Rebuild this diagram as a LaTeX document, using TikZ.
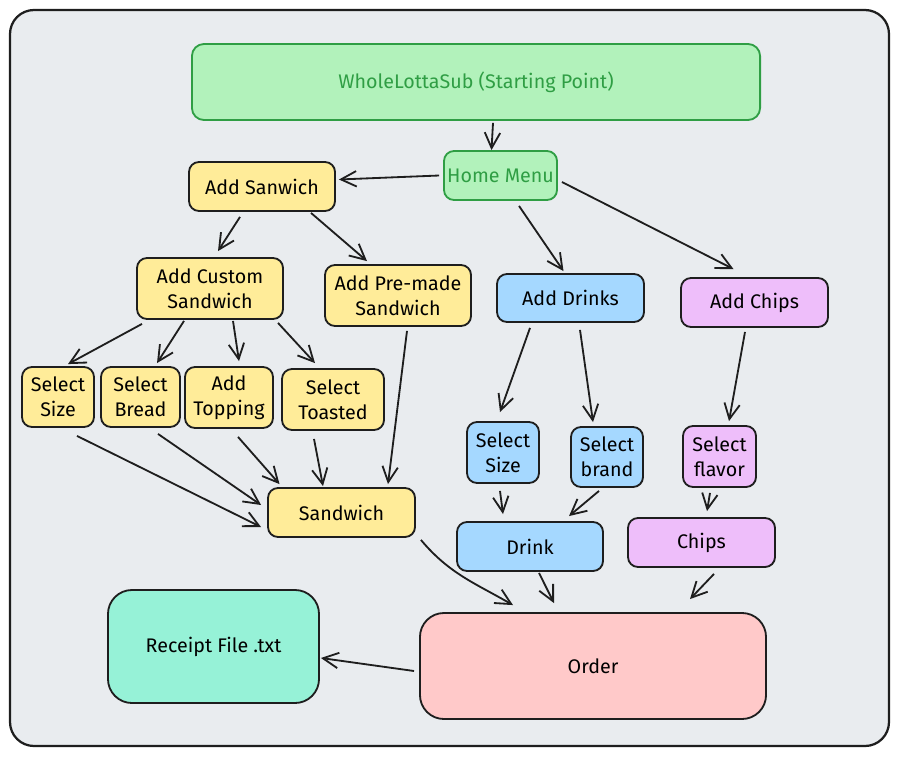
\documentclass[tikz,border=0pt]{standalone}
\usepackage{fontspec}
\setmainfont{Fira Sans}
\usetikzlibrary{arrows.meta}

\definecolor{ink}{HTML}{1E1E1E}
\definecolor{paper}{HTML}{E9ECEF}
\definecolor{greenfill}{HTML}{B2F2BB}
\definecolor{greenline}{HTML}{2F9E44}
\definecolor{yellowfill}{HTML}{FFEC99}
\definecolor{bluefill}{HTML}{A5D8FF}
\definecolor{purplefill}{HTML}{EEBEFA}
\definecolor{redfill}{HTML}{FFC9C9}
\definecolor{tealfill}{HTML}{96F2D7}

\tikzstyle{box} = [rectangle, rounded corners=0.25cm, align=center, draw=ink, line width=1.3pt, inner sep=2pt, font=\fontsize{14}{18}\selectfont]
\tikzstyle{startbox} = [box, rounded corners=0.3cm, fill=greenfill, draw=greenline, text=greenline]
\tikzstyle{sandbox} = [box, fill=yellowfill]
\tikzstyle{drinkbox} = [box, fill=bluefill]
\tikzstyle{chipsbox} = [box, fill=purplefill]
\tikzstyle{orderbox} = [box, rounded corners=0.6cm, fill=redfill]
\tikzstyle{receiptbox} = [box, rounded corners=0.6cm, fill=tealfill]
\tikzstyle{arrow} = [line width=1.3pt, draw=ink, -{Straight Barb[length=11pt,width=11pt]}]

\begin{document}
\begin{tikzpicture}[x=0.025cm, y=-0.025cm]
  \useasboundingbox (0,0) rectangle (899,756);
  \draw [fill=paper, draw=ink, line width=1.6pt, rounded corners=0.6cm] (10,10) rectangle (889,746);

  \node (start) [startbox, minimum width=14.2cm, minimum height=1.9cm] at (476,82) {WholeLottaSub (Starting Point)};
  \node (home) [startbox, rounded corners=0.25cm, minimum width=2.825cm, minimum height=1.225cm] at (500.5,175.5) {Home Menu};

  % sandwich branch
  \node (addsand) [sandbox, minimum width=3.65cm, minimum height=1.225cm] at (262,186.5) {Add Sanwich};
  \node (custom) [sandbox, minimum width=3.65cm, minimum height=1.525cm] at (210,288.5) {Add Custom\\Sandwich};
  \node (premade) [sandbox, minimum width=3.65cm, minimum height=1.525cm] at (398,295.5) {Add Pre-made\\Sandwich};
  \node (ssize) [sandbox, minimum width=1.8cm, minimum height=1.5cm] at (58,397) {Select\\Size};
  \node (sbread) [sandbox, minimum width=1.975cm, minimum height=1.5cm] at (140.5,397) {Select\\Bread};
  \node (topping) [sandbox, minimum width=2.2cm, minimum height=1.525cm] at (229,397.5) {Add\\Topping};
  \node (toasted) [sandbox, minimum width=2.55cm, minimum height=1.525cm] at (333,399.5) {Select\\Toasted};
  \node (sandwich) [sandbox, minimum width=3.675cm, minimum height=1.225cm] at (341.5,512.5) {Sandwich};

  % drink branch
  \node (adddrinks) [drinkbox, minimum width=3.675cm, minimum height=1.2cm] at (570.5,298) {Add Drinks};
  \node (dsize) [drinkbox, minimum width=1.8cm, minimum height=1.525cm] at (503,452.5) {Select\\Size};
  \node (dbrand) [drinkbox, minimum width=1.8cm, minimum height=1.5cm] at (607,457) {Select\\brand};
  \node (drink) [drinkbox, minimum width=3.65cm, minimum height=1.225cm] at (530,546.5) {Drink};

  % chips branch
  \node (addchips) [chipsbox, minimum width=3.675cm, minimum height=1.225cm] at (754.5,302.5) {Add Chips};
  \node (flavor) [chipsbox, minimum width=1.825cm, minimum height=1.525cm] at (719.5,456.5) {Select\\flavor};
  \node (chips) [chipsbox, minimum width=3.675cm, minimum height=1.225cm] at (701.5,542.5) {Chips};

  \node (order) [orderbox, minimum width=8.65cm, minimum height=2.65cm] at (593,666) {Order};
  \node (receipt) [receiptbox, minimum width=5.275cm, minimum height=2.825cm] at (213.5,646.5) {Receipt File .txt};

  \draw [arrow] ([shift={(17,2)}]start.south) -- ([shift={(-9,0)}]home.north);
  \draw [arrow] ([shift={(-4,0)}]home.west) -- ([shift={(3,-7)}]addsand.east);
  \draw [arrow] ([shift={(18.5,5)}]home.south) -- ([shift={(-7,-2)}]adddrinks.north);
  \draw [arrow] ([shift={(4,6.5)}]home.east) -- ([shift={(-21,-8)}]addchips.north);

  \draw [arrow] ([shift={(-22,5)}]addsand.south) -- ([shift={(8,-6)}]custom.north);
  \draw [arrow] ([shift={(49,1)}]addsand.south) -- ([shift={(-31,-3)}]premade.north);

  \draw [arrow] ([shift={(-68,4)}]custom.south) -- ([shift={(10,-2)}]ssize.north);
  \draw [arrow] ([shift={(-26,1)}]custom.south) -- ([shift={(16.5,-3)}]sbread.north);
  \draw [arrow] ([shift={(23,1)}]custom.south) -- ([shift={(10,-5)}]topping.north);
  \draw [arrow] ([shift={(68,3)}]custom.south) -- ([shift={(-18,-5)}]toasted.north);

  \draw [arrow] ([shift={(19,8)}]ssize.south) -- ([shift={(-6,14.5)}]sandwich.west);
  \draw [arrow] ([shift={(17.5,6)}]sbread.south) -- ([shift={(-6,-7.5)}]sandwich.west);
  \draw [arrow] ([shift={(9,8)}]topping.south) -- ([shift={(-62,-3)}]sandwich.north);
  \draw [arrow] ([shift={(-19,8)}]toasted.south) -- ([shift={(-18.5,-1)}]sandwich.north);
  \draw [arrow] ([shift={(9,4)}]premade.south) -- ([shift={(46.5,-3)}]sandwich.north);

  \draw [arrow] ([shift={(-40.5,5)}]adddrinks.south) -- ([shift={(-3,-9)}]dsize.north);
  \draw [arrow] ([shift={(9.5,7)}]adddrinks.south) -- ([shift={(-14,-4)}]dbrand.north);
  \draw [arrow] ([shift={(-9.5,4)}]addchips.south) -- ([shift={(9.5,-4)}]flavor.north);

  \draw [arrow] ([shift={(-3,7)}]dsize.south) -- ([shift={(-27,-7)}]drink.north);
  \draw [arrow] ([shift={(-8,3)}]dbrand.south) -- ([shift={(39,-5)}]drink.north);
  \draw [arrow] ([shift={(-9.5,5)}]flavor.south) -- ([shift={(5.5,-6)}]chips.north);

  \draw [arrow] ([shift={(5,2)}]sandwich.south east) to[out=-50, in=150] ([shift={(-80,-7)}]order.north);
  \draw [arrow] ([shift={(9,1)}]drink.south) -- ([shift={(-39,-9)}]order.north);
  \draw [arrow] ([shift={(12.5,6)}]chips.south) -- ([shift={(97,-13)}]order.north);
  \draw [arrow] ([shift={(-5,5)}]order.west) -- ([shift={(1,11.5)}]receipt.east);
\end{tikzpicture}
\end{document}
